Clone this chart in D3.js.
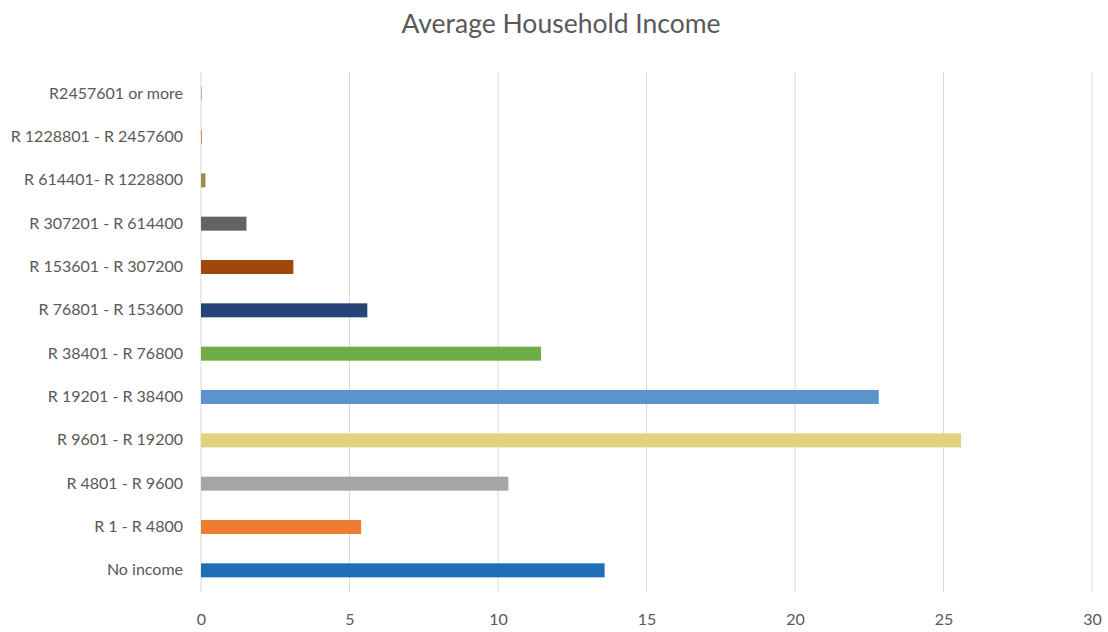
<!DOCTYPE html>
<html>
<head>
<meta charset="utf-8">
<script src="https://cdn.jsdelivr.net/npm/d3@7"></script>
<style>
  html, body { margin: 0; padding: 0; background: #fff; }
  svg { display: block; }
  text { font-family: Lato, "Open Sans", sans-serif; fill: #595959; }
</style>
</head>
<body>
<svg id="chart" width="1108" height="632"></svg>
<script>
// Income brackets, top to bottom as shown
const categories = [
  "R2457601 or more",
  "R 1228801 - R 2457600",
  "R 614401- R 1228800",
  "R 307201 - R 614400",
  "R 153601 - R 307200",
  "R 76801 - R 153600",
  "R 38401 -  R 76800",
  "R 19201 - R 38400",
  "R 9601 - R 19200",
  "R 4801 - R 9600",
  "R 1 - R 4800",
  "No income"
];
const values = [0.02, 0.03, 0.15, 1.53, 3.11, 5.6, 11.45, 22.82, 25.59, 10.35, 5.39, 13.59];
const colors = ["#5b9bd5", "#ed7d31", "#a08a50", "#636363", "#9e480e", "#264478",
                "#70ad47", "#5b93cc", "#e2d27c", "#a5a5a5", "#ed7d31", "#1f6db5"];
const xTicks = [0, 5, 10, 15, 20, 25, 30];
const title = "Average Household Income";

const svg = d3.select("#chart");
const margin = { left: 201, right: 16, top: 72, bottom: 40 };
const W = 1108, H = 632;

const x = d3.scaleLinear().domain([0, 30]).range([margin.left, margin.left + 29.7 * 30]);
const y = d3.scaleBand().domain(categories).range([margin.top, H - margin.bottom]).paddingInner(0).paddingOuter(0);

// Title
svg.append("text")
  .attr("x", 561).attr("y", 33)
  .attr("text-anchor", "middle")
  .style("font-size", "26.5px")
  .text(title);

// Vertical gridlines
svg.append("g")
  .selectAll("line")
  .data(xTicks)
  .join("line")
  .attr("x1", d => x(d)).attr("x2", d => x(d))
  .attr("y1", margin.top).attr("y2", H - margin.bottom)
  .attr("stroke", "#d9d9d9").attr("stroke-width", 1);

// X axis tick labels
const xAxis = d3.axisBottom(x).tickValues(xTicks).tickSize(0).tickPadding(0);
const gx = svg.append("g")
  .attr("transform", `translate(0,${H - margin.bottom})`)
  .call(xAxis);
gx.select(".domain").remove();
gx.selectAll("text")
  .attr("dy", "0")
  .attr("y", 33)
  .style("font-size", "16px")
  .style("fill", "#595959")
  .style("font-family", "Lato, sans-serif");

// Y axis category labels
const yAxis = d3.axisLeft(y).tickSize(0).tickPadding(18);
const gy = svg.append("g")
  .attr("transform", `translate(${margin.left},0)`)
  .call(yAxis);
gy.select(".domain").remove();
gy.selectAll("text")
  .style("font-size", "16px")
  .style("fill", "#595959")
  .style("font-family", "Lato, sans-serif");

// Bars
const barH = 14;
svg.append("g")
  .selectAll("rect")
  .data(categories.map((c, i) => ({ c, v: values[i], col: colors[i] })))
  .join("rect")
  .attr("x", x(0))
  .attr("y", d => y(d.c) + y.bandwidth() / 2 - barH / 2)
  .attr("width", d => Math.max(0, x(d.v) - x(0)))
  .attr("height", barH)
  .attr("fill", d => d.col);
</script>
</body>
</html>
